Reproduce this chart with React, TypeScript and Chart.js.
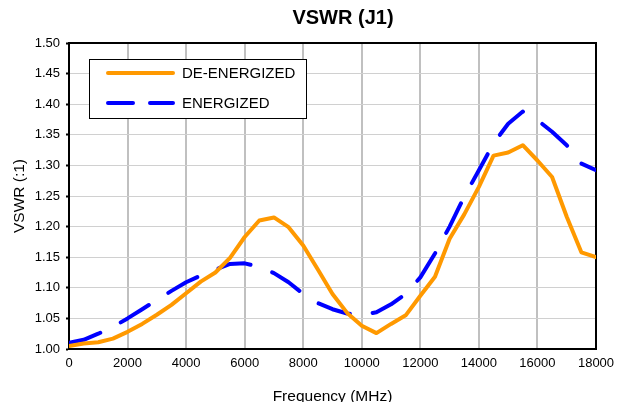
import React, { useEffect, useRef } from "react";
import { Chart, registerables } from "chart.js";

Chart.register(...registerables);

const FONT = "Arial, 'Liberation Sans', Helvetica, sans-serif";

const titleText = "VSWR (J1)";
const xAxisTitle = "Frequency (MHz)";
const yAxisTitle = "VSWR (:1)";

const frequencies = [
  0, 500, 1000, 1500, 2000, 2500, 3000, 3500, 4000, 4500, 5000, 5500, 6000,
  6500, 7000, 7500, 8000, 8500, 9000, 9500, 10000, 10500, 11000, 11500, 12000,
  12500, 13000, 13500, 14000, 14500, 15000, 15500, 16000, 16500, 17000, 17500,
  18000,
];

const deEnergized = [
  1.005, 1.009, 1.011, 1.017, 1.028, 1.041, 1.056, 1.072, 1.091, 1.11, 1.125,
  1.149, 1.183, 1.21, 1.215, 1.199, 1.169, 1.13, 1.09, 1.059, 1.038, 1.026,
  1.041, 1.055, 1.087, 1.118, 1.18, 1.22, 1.265, 1.316, 1.321, 1.333, 1.308,
  1.281, 1.216, 1.158, 1.15,
];

const energized = [
  1.01, 1.015, 1.025, 1.036, 1.05, 1.065, 1.08, 1.095, 1.109, 1.12, 1.13,
  1.139, 1.14, 1.134, 1.124, 1.109, 1.09, 1.075, 1.065, 1.058, 1.056, 1.06,
  1.073, 1.09, 1.117, 1.156, 1.2, 1.249, 1.292, 1.336, 1.368, 1.388, 1.374,
  1.355, 1.333, 1.303, 1.292,
];

const seriesLabels = ["DE-ENERGIZED", "ENERGIZED"];

const xTickValues = [0, 2000, 4000, 6000, 8000, 10000, 12000, 14000, 16000, 18000];
const yTickValues = [1.0, 1.05, 1.1, 1.15, 1.2, 1.25, 1.3, 1.35, 1.4, 1.45, 1.5];

const frameAndTitlePlugin = {
  id: "frameAndTitle",
  beforeDatasetsDraw(chart: any) {
    const { ctx, chartArea } = chart;
    ctx.save();
    ctx.strokeStyle = "#000";
    ctx.lineWidth = 2;
    ctx.strokeRect(
      chartArea.left,
      chartArea.top,
      chartArea.right - chartArea.left,
      chartArea.bottom - chartArea.top
    );
    ctx.restore();
  },
  afterDraw(chart: any) {
    const { ctx } = chart;
    ctx.save();
    ctx.fillStyle = "#000";
    ctx.font = `bold 20px ${FONT}`;
    ctx.textAlign = "center";
    ctx.textBaseline = "alphabetic";
    ctx.fillText(titleText, 343, 24);
    ctx.restore();
  },
};

const boxedLegendPlugin = {
  id: "boxedLegend",
  afterDatasetsDraw(chart: any) {
    const { ctx } = chart;
    const x0 = 89.5;
    const y0 = 59.5;
    const w = 217;
    const h = 59;
    ctx.save();
    ctx.fillStyle = "#fff";
    ctx.fillRect(x0, y0, w, h);
    ctx.strokeStyle = "#000";
    ctx.lineWidth = 1;
    ctx.strokeRect(x0, y0, w, h);
    const rows = [73, 103];
    const legendDashes = [[], [25, 17]];
    chart.data.datasets.forEach((ds: any, i: number) => {
      const y = rows[i];
      ctx.beginPath();
      ctx.setLineDash(legendDashes[i]);
      ctx.lineCap = "round";
      ctx.strokeStyle = ds.borderColor;
      ctx.lineWidth = 4;
      ctx.moveTo(108, y);
      ctx.lineTo(173, y);
      ctx.stroke();
      ctx.setLineDash([]);
      ctx.fillStyle = "#000";
      ctx.font = `15px ${FONT}`;
      ctx.textAlign = "left";
      ctx.textBaseline = "middle";
      ctx.fillText(ds.label, 182, y + 1);
    });
    ctx.restore();
  },
};

export default function App() {
  const canvasRef = useRef<HTMLCanvasElement | null>(null);

  useEffect(() => {
    if (!canvasRef.current) return;
    Chart.defaults.font.family = FONT;
    Chart.defaults.color = "#000";

    const chart = new Chart(canvasRef.current, {
      type: "line",
      data: {
        datasets: [
          {
            label: seriesLabels[0],
            data: frequencies.map((f, i) => ({ x: f, y: deEnergized[i] })),
            borderColor: "#FF9900",
            backgroundColor: "#FF9900",
            borderWidth: 4,
            pointRadius: 0,
            tension: 0,
            borderCapStyle: "round",
            borderJoinStyle: "round",
            fill: false,
          },
          {
            label: seriesLabels[1],
            data: frequencies.map((f, i) => ({ x: f, y: energized[i] })),
            borderColor: "#0000FF",
            backgroundColor: "#0000FF",
            borderWidth: 4,
            borderDash: [33, 23],
            pointRadius: 0,
            tension: 0,
            borderCapStyle: "round",
            borderJoinStyle: "round",
            fill: false,
          },
        ],
      },
      options: {
        animation: false,
        responsive: false,
        maintainAspectRatio: false,
        layout: { padding: { top: 43, right: 33, bottom: 0, left: 0 } },
        plugins: {
          legend: { display: false },
          title: { display: false },
          tooltip: { enabled: false },
        },
        scales: {
          x: {
            type: "linear",
            min: 0,
            max: 18000,
            afterBuildTicks: (scale: any) => {
              scale.ticks = xTickValues.map((v) => ({ value: v }));
            },
            afterFit: (scale: any) => {
              scale.height = 53;
            },
            ticks: {
              font: { size: 13, family: FONT },
              color: "#000",
              padding: 7,
              maxRotation: 0,
              autoSkip: false,
              callback: (v: any) => String(v),
            },
            grid: {
              color: "#c0c0c0",
              lineWidth: 2,
              drawTicks: false,
            },
            border: { display: true, color: "#000", width: 2 },
            title: {
              display: true,
              text: xAxisTitle,
              font: { size: 15.5, family: FONT },
              color: "#000",
              padding: { top: 0, bottom: -4 },
            },
          },
          y: {
            type: "linear",
            min: 1.0,
            max: 1.5,
            afterBuildTicks: (scale: any) => {
              scale.ticks = yTickValues.map((v) => ({ value: v }));
            },
            afterFit: (scale: any) => {
              scale.width = 69;
            },
            ticks: {
              font: { size: 13, family: FONT },
              color: "#000",
              padding: 6,
              autoSkip: false,
              callback: (v: any) => Number(v).toFixed(2),
            },
            grid: {
              color: "#d0d0d0",
              lineWidth: 1,
              drawTicks: true,
              tickLength: 3,
              tickColor: "#000",
              tickWidth: 2,
            },
            border: { display: true, color: "#000", width: 2 },
            title: {
              display: true,
              text: yAxisTitle,
              font: { size: 15.5, family: FONT },
              color: "#000",
              padding: { top: 10, bottom: 0 },
            },
          },
        },
      },
      plugins: [frameAndTitlePlugin, boxedLegendPlugin],
    } as any);

    return () => chart.destroy();
  }, []);

  return (
    <div
      style={{
        position: "fixed",
        left: 0,
        top: 0,
        width: 629,
        height: 402,
        background: "#fff",
      }}
    >
      <canvas
        ref={canvasRef}
        width={629}
        height={402}
        style={{ width: 629, height: 402, display: "block" }}
      />
    </div>
  );
}
